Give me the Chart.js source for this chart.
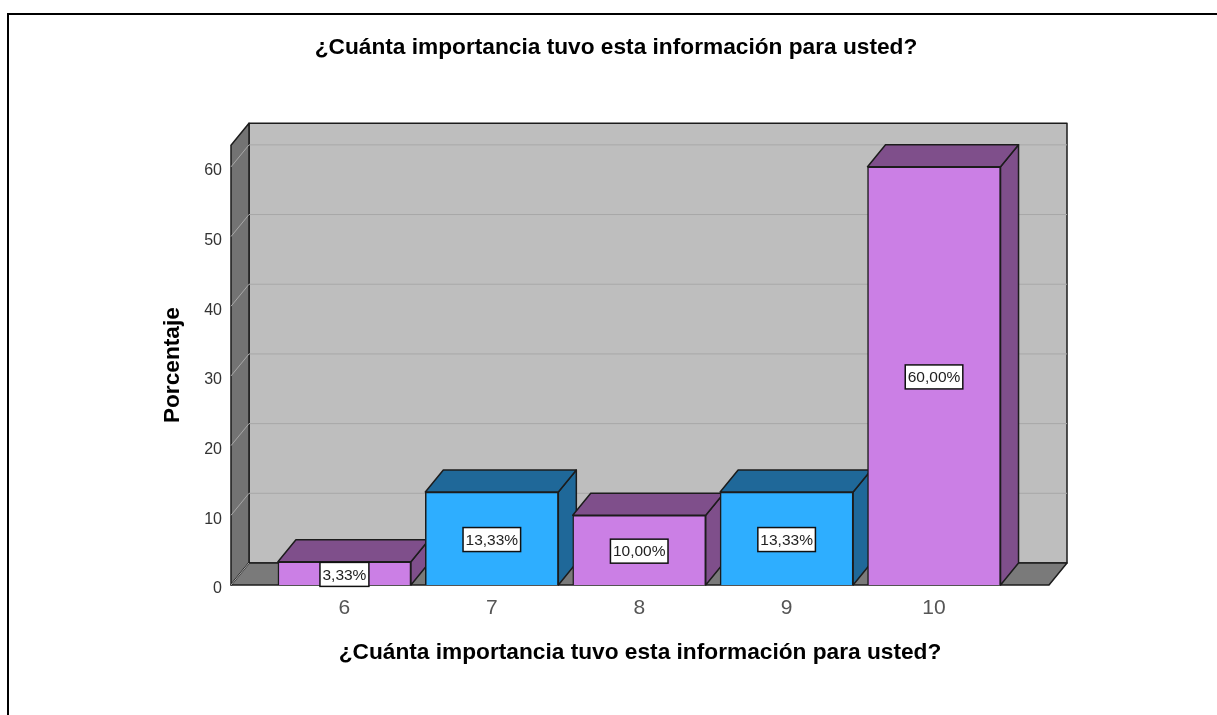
<!DOCTYPE html>
<html>
<head>
<meta charset="utf-8">
<title>Importancia</title>
<script src="https://cdn.jsdelivr.net/npm/chart.js@4"></script>
<style>
  html, body { margin: 0; padding: 0; background: #fff; overflow: hidden; }
  canvas { display: block; }
</style>
</head>
<body>
<canvas id="chartImportancia" width="1217" height="715"></canvas>
<script>
// data
const categories = [6, 7, 8, 9, 10];
const percentages = [3.33, 13.33, 10, 13.33, 60];
const yTicks = [0, 10, 20, 30, 40, 50, 60];
const frontColors = ['#CB7FE5', '#2EAEFF', '#CB7FE5', '#2EAEFF', '#CB7FE5'];
const depthColors = ['#7F4F8B', '#1F6899', '#7F4F8B', '#1F6899', '#7F4F8B'];

const questionText = '¿Cuánta importancia tuvo esta información para usted?';
const fontName = '"Liberation Sans", Arial, sans-serif';
const lineColor = '#1c1c1c';

// how far the back wall sits from the front plane
const depthX = 18;
const depthY = 22;

function poly(ctx, pts, fill) {
  ctx.beginPath();
  ctx.moveTo(pts[0][0], pts[0][1]);
  for (let i = 1; i < pts.length; i++) ctx.lineTo(pts[i][0], pts[i][1]);
  ctx.closePath();
  ctx.fillStyle = fill;
  ctx.fill();
  ctx.stroke();
}

// page frame, walls and floor behind the bars, plus the 3d part of each bar
const box3d = {
  id: 'box3d',
  beforeDraw(chart) {
    const ctx = chart.ctx;
    ctx.save();
    ctx.strokeStyle = '#000';
    ctx.lineWidth = 2;
    ctx.beginPath();
    ctx.moveTo(8, 715);
    ctx.lineTo(8, 14);
    ctx.lineTo(1217, 14);
    ctx.stroke();
    ctx.restore();
  },
  beforeDatasetsDraw(chart) {
    const ctx = chart.ctx;
    const a = chart.chartArea;
    const y = chart.scales.y;
    ctx.save();
    ctx.strokeStyle = lineColor;
    ctx.lineWidth = 1.5;
    ctx.lineJoin = 'round';

    poly(ctx, [[a.left + depthX, a.top - depthY], [a.right + depthX, a.top - depthY],
      [a.right + depthX, a.bottom - depthY], [a.left + depthX, a.bottom - depthY]], '#BEBEBE');
    poly(ctx, [[a.left, a.top], [a.left + depthX, a.top - depthY],
      [a.left + depthX, a.bottom - depthY], [a.left, a.bottom]], '#737373');
    poly(ctx, [[a.left, a.bottom], [a.left + depthX, a.bottom - depthY],
      [a.right + depthX, a.bottom - depthY], [a.right, a.bottom]], '#7A7A7A');

    // grid on both walls, the zero line only shows on the side wall
    ctx.lineWidth = 1;
    yTicks.forEach(function(t) {
      const py = y.getPixelForValue(t);
      ctx.strokeStyle = '#A8A8A8';
      ctx.beginPath();
      ctx.moveTo(a.left, py);
      ctx.lineTo(a.left + depthX, py - depthY);
      if (t !== 0) ctx.lineTo(a.right + depthX, py - depthY);
      ctx.stroke();
    });

    // top and side faces, left to right so later bars cover earlier ones
    ctx.strokeStyle = lineColor;
    ctx.lineWidth = 1.5;
    chart.getDatasetMeta(0).data.forEach(function(bar, i) {
      const half = bar.width / 2;
      const l = bar.x - half;
      const r = bar.x + half;
      poly(ctx, [[r, bar.y], [r + depthX, bar.y - depthY],
        [r + depthX, bar.base - depthY], [r, bar.base]], depthColors[i]);
      poly(ctx, [[l, bar.y], [l + depthX, bar.y - depthY],
        [r + depthX, bar.y - depthY], [r, bar.y]], depthColors[i]);
    });
    ctx.restore();
  },
  afterDatasetsDraw(chart) {
    const ctx = chart.ctx;
    ctx.save();
    ctx.font = '15.5px ' + fontName;
    ctx.textAlign = 'center';
    ctx.textBaseline = 'middle';
    chart.getDatasetMeta(0).data.forEach(function(bar, i) {
      const text = percentages[i].toFixed(2).replace('.', ',') + '%';
      const w = ctx.measureText(text).width + 5;
      const cy = (bar.y + bar.base) / 2 + 1;
      ctx.fillStyle = '#fff';
      ctx.strokeStyle = '#111';
      ctx.lineWidth = 1.5;
      ctx.fillRect(bar.x - w / 2, cy - 12, w, 24);
      ctx.strokeRect(bar.x - w / 2, cy - 12, w, 24);
      ctx.fillStyle = '#222';
      ctx.fillText(text, bar.x, cy + 1);
    });
    ctx.restore();
  }
};

new Chart(document.getElementById('chartImportancia').getContext('2d'), {
  type: 'bar',
  plugins: [box3d],
  data: {
    datasets: [{
      data: categories.map(function(c, i) { return { x: c, y: percentages[i] }; }),
      backgroundColor: frontColors,
      borderColor: lineColor,
      borderWidth: 1.5,
      barThickness: 133
    }]
  },
  options: {
    responsive: false,
    animation: false,
    layout: { padding: { left: 150, right: 135, top: 24, bottom: 0 } },
    plugins: {
      legend: { display: false },
      tooltip: { enabled: false },
      title: {
        display: true,
        text: questionText,
        color: '#000',
        font: { family: fontName, size: 22.7, weight: 'bold', lineHeight: 1.2 },
        padding: { top: 10, bottom: 84 }
      }
    },
    scales: {
      x: {
        type: 'linear',
        offset: false,
        min: 5.2305,
        max: 10.78,
        afterFit(scale) { scale.height = 130; },
        afterBuildTicks(scale) { scale.ticks = categories.map(function(c) { return { value: c }; }); },
        grid: { display: false },
        border: { display: false },
        ticks: {
          color: '#555',
          padding: 2.5,
          maxRotation: 0,
          autoSkip: false,
          font: { family: fontName, size: 21 }
        },
        title: {
          display: true,
          text: questionText,
          color: '#000',
          font: { family: fontName, size: 22.7, weight: 'bold', lineHeight: 1.2 },
          padding: { top: 0, bottom: 48.5 }
        }
      },
      y: {
        min: 0,
        max: 63.1,
        afterFit(scale) { scale.width = 81; },
        afterBuildTicks(scale) { scale.ticks = yTicks.map(function(t) { return { value: t }; }); },
        grid: { display: false },
        border: { display: false },
        ticks: {
          color: '#333',
          padding: 1,
          labelOffset: 4,
          font: { family: fontName, size: 16 }
        },
        title: {
          display: true,
          text: 'Porcentaje',
          color: '#000',
          font: { family: fontName, size: 22.7, weight: 'bold', lineHeight: 1.2 },
          padding: { top: 9.5, bottom: 0 }
        }
      },
      // empty axis, only there so the top title centres where it should
      yRight: {
        position: 'right',
        afterFit(scale) { scale.width = 33; },
        grid: { display: false },
        border: { display: false },
        ticks: { display: false }
      }
    }
  }
});
</script>
</body>
</html>
